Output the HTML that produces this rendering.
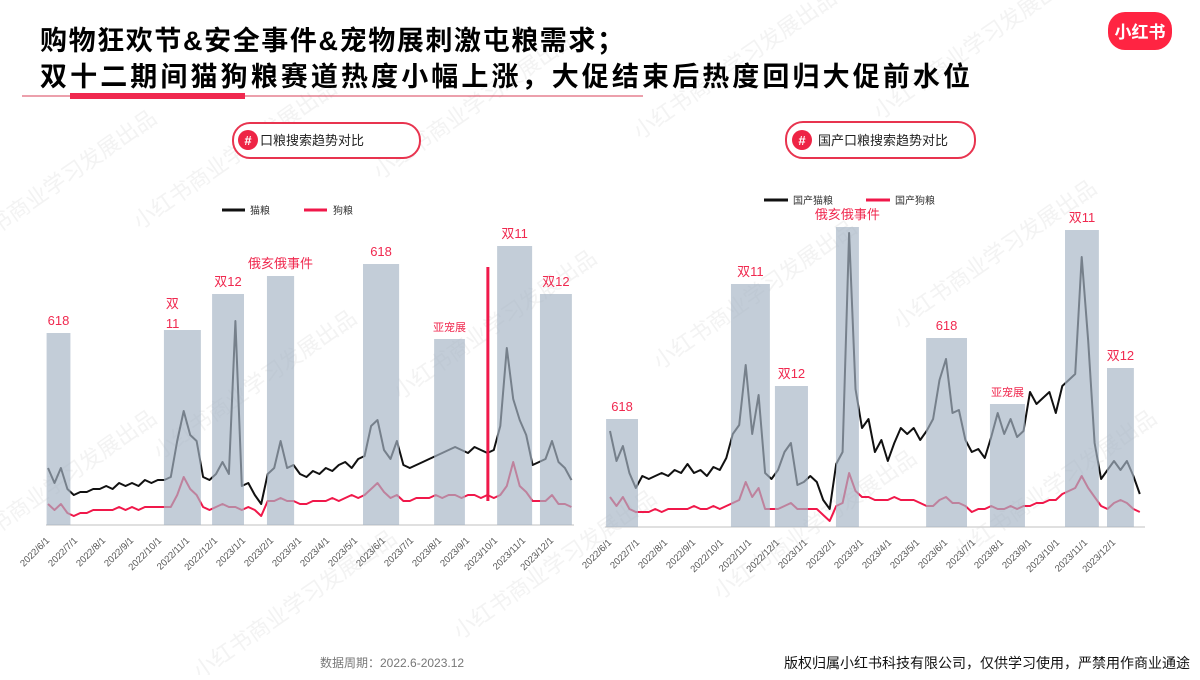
<!DOCTYPE html>
<html><head><meta charset="utf-8">
<style>
html,body{margin:0;padding:0;background:#fff;}
body{width:1200px;height:675px;overflow:hidden;position:relative;font-family:"Liberation Sans","Noto Sans CJK SC",sans-serif;}
svg text{font-family:"Liberation Sans","Noto Sans CJK SC",sans-serif;}
</style></head>
<body>
<svg id="s" width="1200" height="675" viewBox="0 0 1200 675" xmlns="http://www.w3.org/2000/svg">
  <g id="wm"></g>
  <text x="40" y="50" font-size="27" font-weight="bold" fill="#000" letter-spacing="1.6">购物狂欢节&amp;安全事件&amp;宠物展刺激屯粮需求；</text>
  <text x="40" y="86" font-size="27" font-weight="bold" fill="#000" letter-spacing="3.1">双十二期间猫狗粮赛道热度小幅上涨，大促结束后热度回归大促前水位</text>
  <line x1="22" y1="96" x2="643" y2="96" stroke="#d9425a" stroke-width="1"/>
  <rect x="70" y="93" width="175" height="6" fill="#f0294f"/>
  <rect x="1108" y="12" width="64" height="38" rx="17" fill="#ff2442"/>
  <text x="1140" y="38" font-size="17" font-weight="bold" fill="#fff" text-anchor="middle">小红书</text>

  <g>
    <rect x="233" y="123" width="187" height="35" rx="17" fill="#fff" stroke="#e8344f" stroke-width="2"/>
    <circle cx="248" cy="140" r="10" fill="#ee2445"/>
    <text x="248" y="145" font-size="13" font-weight="bold" fill="#fff" text-anchor="middle">#</text>
    <text x="260" y="145" font-size="13" fill="#222">口粮搜索趋势对比</text>
  </g>
  <g>
    <rect x="786" y="122" width="189" height="36" rx="17" fill="#fff" stroke="#e8344f" stroke-width="2"/>
    <circle cx="802" cy="140" r="10" fill="#ee2445"/>
    <text x="802" y="145" font-size="13" font-weight="bold" fill="#fff" text-anchor="middle">#</text>
    <text x="818" y="145" font-size="13" fill="#222">国产口粮搜索趋势对比</text>
  </g>

  <g>
    <line x1="222" y1="210" x2="245" y2="210" stroke="#111" stroke-width="3"/>
    <text x="250" y="214" font-size="10" fill="#333">猫粮</text>
    <line x1="304" y1="210" x2="327" y2="210" stroke="#f0184a" stroke-width="3"/>
    <text x="333" y="214" font-size="10" fill="#333">狗粮</text>
  </g>
  <g>
    <line x1="764" y1="200" x2="788" y2="200" stroke="#111" stroke-width="3"/>
    <text x="793" y="204" font-size="10" fill="#333">国产猫粮</text>
    <line x1="866" y1="200" x2="890" y2="200" stroke="#f0184a" stroke-width="3"/>
    <text x="895" y="204" font-size="10" fill="#333">国产狗粮</text>
  </g>

  <g id="left"></g>
  <g id="right"></g>

  <text x="320" y="667" font-size="12" fill="#777">数据周期：2022.6-2023.12</text>
  <text x="1190" y="668" font-size="14" fill="#111" text-anchor="end">版权归属小红书科技有限公司，仅供学习使用，严禁用作商业通途</text>
</svg>
<script>
// ---- data ----
const monthLabels = ["2022/6/1","2022/7/1","2022/8/1","2022/9/1","2022/10/1","2022/11/1","2022/12/1","2023/1/1","2023/2/1","2023/3/1","2023/4/1","2023/5/1","2023/6/1","2023/7/1","2023/8/1","2023/9/1","2023/10/1","2023/11/1","2023/12/1"];
const leftCat = [19,14,19,12,10,11,11,12,12,13,12,14,13,14,13,15,14,15,15,16,28,38,30,28,16,15,17,21,17,68,13,14,10,7,17,19,28,19,20,17,16,18,17,19,18,20,21,19,22,23,33,35,25,22,28,20,19,20,21,22,23,24,25,26,25,24,26,25,24,25,33,59,42,35,30,20,21,22,28,21,19,15];
const leftDog = [7,5,7,4,3,4,4,5,5,5,5,6,5,6,5,6,6,6,6,6,10,16,12,10,6,5,6,7,6,6,5,6,5,3,8,8,9,8,8,7,7,8,8,8,9,8,9,10,9,10,12,14,11,9,10,8,8,9,9,9,10,9,10,10,9,10,10,9,10,9,10,13,21,13,11,8,8,8,10,7,7,6];
const leftEvents = ["618","双11","双12","俄亥俄事件","618","亚宠展","双11","双12"];
const leftEventStart = [-0.05,4.14,5.86,7.82,11.25,13.79,16.04,17.57];
const leftEventEnd = [0.8,5.46,7.0,8.79,12.54,14.89,17.29,18.71];
const leftEventHeight = [64,65,77,83,87,62,93,77];
const leftSpikeMonth = 15.71, leftSpikeLow = 8, leftSpikeHigh = 86;

const rightCat = [32,22,27,18,13,17,16,17,18,17,19,18,21,18,19,17,20,19,23,31,34,54,31,44,18,16,19,25,28,14,15,17,15,9,6,21,25,98,46,33,36,25,29,22,28,33,31,33,29,32,36,49,56,38,39,29,25,26,23,30,38,31,36,30,32,45,41,43,45,38,47,49,51,90,62,28,16,19,22,19,22,17,11];
const rightDog = [10,7,10,6,5,5,5,6,5,6,6,6,6,7,6,6,7,6,7,8,9,15,10,13,6,6,6,7,8,6,6,6,6,4,2,7,8,18,12,10,10,9,9,9,10,9,9,9,8,7,7,9,10,8,8,7,5,6,6,7,6,6,7,6,7,7,8,8,9,9,11,12,13,17,13,10,7,6,8,9,8,6,5];
const rightEvents = ["618","双11","双12","俄亥俄事件","618","亚宠展","双11","双12"];
const rightEventStart = [-0.14,4.32,5.89,8.07,11.29,13.57,16.25,17.75];
const rightEventEnd = [1.0,5.71,7.07,8.89,12.75,14.82,17.46,18.71];
const rightEventHeight = [36,81,47,100,63,41,99,53];

const NS = "http://www.w3.org/2000/svg";
function mk(tag, attrs, parent){ const e=document.createElementNS(NS,tag); for(const k in attrs) e.setAttribute(k,attrs[k]); parent.appendChild(e); return e; }

function drawChart(g, cfg){
  const x0=cfg.x0, base=cfg.base, pxMonth=28, pxWeek=28*12/52, k=3;
  const xm = m => x0 + m*pxMonth;
  const xw = i => x0 + i*pxWeek;
  const y = v => base - v*k;
  const ax = mk('line',{x1:cfg.axL,y1:base,x2:cfg.axR,y2:base,stroke:'#d6d6d6','stroke-width':1.5},g);
  
  
  function line(arr,color,name){
    const d = arr.map((v,i)=>(i?'L':'M')+xw(i).toFixed(1)+' '+y(v).toFixed(1)).join(' ');
    const p = mk('path',{d:d,fill:'none',stroke:color,'stroke-width':2,'stroke-linejoin':'round'},g);
    
    
  }
  line(cfg.dog,'#f0184a',cfg.dogName);
  line(cfg.cat,'#111111',cfg.catName);
  cfg.events.forEach((ev,i)=>{
    const r = mk('rect',{x:xm(cfg.es[i]),y:y(cfg.eh[i]),width:xm(cfg.ee[i])-xm(cfg.es[i]),height:cfg.eh[i]*k,fill:'#a7b5c6','fill-opacity':0.68},g);
    
    
  });
  cfg.events.forEach((ev,i)=>{
    const cx=(xm(cfg.es[i])+xm(cfg.ee[i]))/2, ty=y(cfg.eh[i])-8;
    if(cfg.split && cfg.split[i]){
      const t1=mk('text',{x:xm(cfg.es[i])+2,y:ty-14,'font-size':13,fill:'#f0294f'},g); t1.textContent='双';
      
      
      const t2=mk('text',{x:xm(cfg.es[i])+2,y:ty+6,'font-size':13,fill:'#f0294f'},g); t2.textContent='11';
      
      
    } else {
      const t=mk('text',{x:cx,y:ty,'font-size':ev==='亚宠展'?11:13,fill:'#f0294f','text-anchor':'middle'},g); t.textContent=ev;
      
      
    }
  });
  if(cfg.spike!==undefined){
    const s=mk('line',{x1:xm(cfg.spike),x2:xm(cfg.spike),y1:y(cfg.spikeLow),y2:y(cfg.spikeHigh),stroke:'#f0184a','stroke-width':3},g);
    
    
  }
  monthLabels.forEach((lab,m)=>{
    const tx=xm(m)+2, ty=base+16;
    const t=mk('text',{x:tx,y:ty,'font-size':9.5,fill:'#555','text-anchor':'end',transform:'rotate(-45 '+tx+' '+ty+')'},g);
    t.textContent=lab;
    
    
  });
}

drawChart(document.getElementById('left'),{x0:48,base:525,axL:46,axR:574,cat:leftCat,dog:leftDog,catName:'cat-food-line',dogName:'dog-food-line',events:leftEvents,es:leftEventStart,ee:leftEventEnd,eh:leftEventHeight,split:[false,true,false,false,false,false,false,false],spike:leftSpikeMonth,spikeLow:leftSpikeLow,spikeHigh:leftSpikeHigh});
drawChart(document.getElementById('right'),{x0:610,base:527,axL:605,axR:1145,cat:rightCat,dog:rightDog,catName:'domestic-cat-food-line',dogName:'domestic-dog-food-line',events:rightEvents,es:rightEventStart,ee:rightEventEnd,eh:rightEventHeight});

const wm=document.getElementById('wm');
[[-40,260],[140,230],[380,180],[640,140],[880,120],[-40,560],[160,460],[400,400],[660,370],[900,330],[200,680],[460,640],[720,600],[960,560]].forEach(p=>{
  const t=mk('text',{x:p[0],y:p[1],'font-size':22,fill:'#f3f3f3',transform:'rotate(-35 '+p[0]+' '+p[1]+')'},wm);
  t.textContent='小红书商业学习发展出品';
  
  
});
</script>
</body></html>
